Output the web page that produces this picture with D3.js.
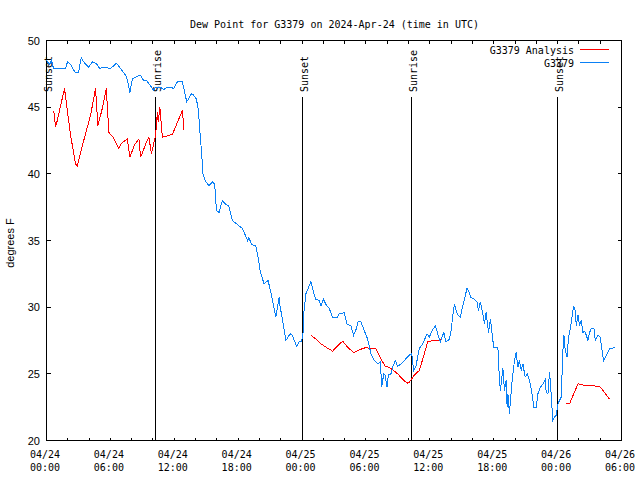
<!DOCTYPE html>
<html><head><meta charset="utf-8">
<script src="https://cdn.jsdelivr.net/npm/d3@7"></script>
<style>body{margin:0;background:#fff}</style>
</head><body><svg id="c" width="640" height="480"></svg>
<script>
const titleText = "Dew Point for G3379 on 2024-Apr-24 (time in UTC)";
const startUTC = Date.UTC(2024, 3, 24, 0, 0, 0);
const spanHours = 54;
const yTicks = [20, 25, 30, 35, 40, 45, 50];
const seriesNames = ["G3379 Analysis", "G3379"];
const seriesColors = ["#ff0000", "#0a80f5"];

// hours since 2024-04-24 00:00 UTC
const blueHours = [0,0.28,0.47,0.66,1.13,1.79,1.97,2.26,2.45,2.73,3.01,3.26,3.57,3.95,4.33,4.77,4.98,5.46,6.02,6.30,6.58,6.96,7.43,7.62,7.83,8.06,8.46,8.84,9.12,9.40,9.78,10.03,10.25,10.72,11.00,11.29,11.66,11.94,12.29,12.76,13.17,13.61,13.82,14.08,14.27,14.42,14.55,14.70,14.89,15.26,15.58,15.80,15.96,16.20,16.52,16.83,17.12,17.46,17.77,18.09,18.40,18.88,19.00,19.28,19.66,19.87,20.06,20.29,20.44,20.81,21.07,21.54,21.85,21.91,22.17,22.48,22.88,23.09,23.26,23.51,23.73,23.95,24.10,24.12,24.36,24.83,25.08,25.30,25.61,25.77,26.02,26.24,26.55,26.87,27.34,27.49,27.74,27.96,28.21,28.59,28.84,29.06,29.28,29.53,29.84,30.09,30.31,30.47,30.78,31.10,31.35,31.48,31.67,31.79,31.98,32.10,32.35,32.51,32.76,32.98,33.23,33.60,34.07,34.30,34.39,34.49,34.70,35.01,35.33,35.74,35.95,36.21,36.52,36.74,36.99,37.31,37.52,37.84,38.00,38.16,38.31,38.47,38.65,38.87,39.09,39.25,39.50,39.72,39.81,40.19,40.44,40.56,40.75,40.98,41.13,41.29,41.51,41.69,41.92,42.01,42.39,42.44,42.54,42.63,42.76,42.86,43.01,43.17,43.26,43.33,43.48,43.57,43.73,43.95,44.11,44.27,44.42,44.58,44.74,44.95,45.14,45.36,45.52,45.77,45.99,46.15,46.39,46.62,46.84,46.93,47.09,47.24,47.33,47.47,47.56,47.71,47.87,48.03,48.18,48.34,48.43,48.50,48.59,48.72,48.88,49.03,49.19,49.35,49.50,49.66,49.75,49.91,50.06,50.22,50.38,50.53,50.69,50.85,51.00,51.16,51.41,51.54,51.79,52.01,52.17,52.32,52.57,52.88,53.35];
const blueValues = [48.5,48.2,48.5,47.9,47.9,47.9,48.4,48.2,47.9,47.6,47.6,48.7,48.3,48.0,48.4,48.2,47.9,48.0,47.9,48.1,48.3,47.9,47.4,47.0,46.1,47.1,47.3,47.4,47.0,47.0,46.6,46.25,46.5,46.5,46.3,46.5,46.5,46.4,46.9,46.9,45.4,46.0,45.9,45.6,44.75,43.0,41.75,40.0,39.5,39.1,39.4,39.2,37.25,37.1,38.0,37.7,37.6,36.5,36.3,36.1,35.9,35.0,35.2,34.7,34.6,33.75,32.75,32.1,31.75,32.0,31.1,29.25,30.75,30.2,29.0,27.5,28.0,27.9,27.5,27.05,27.4,27.4,28.1,29.25,31.0,31.9,31.1,30.6,30.5,30.1,30.6,30.2,29.9,29.25,29.25,29.55,29.5,29.6,28.75,28.6,27.9,28.3,28.95,28.9,28.25,27.75,27.1,26.5,26.0,25.75,25.9,24.0,25.0,24.9,24.0,24.9,25.0,25.5,26.0,25.55,25.7,26.0,26.4,26.5,25.9,25.25,25.6,26.9,27.25,28.0,27.75,28.25,28.6,28.0,27.4,28.1,27.4,27.6,28.25,29.4,30.25,29.75,29.4,29.25,30.1,30.6,31.45,31.1,30.75,30.6,30.4,29.75,30.4,29.5,28.75,29.6,28.1,29.1,27.5,27.0,27.0,26.1,24.5,23.75,24.75,25.4,23.75,24.5,22.5,23.5,22.0,23.0,24.5,26.0,26.6,25.5,26.0,25.25,25.75,24.75,25.0,24.5,23.9,22.5,22.5,23.5,24.0,24.25,24.6,23.6,23.5,25.1,24.25,22.5,21.5,21.75,21.9,22.75,23.0,23.25,25.25,26.75,27.9,26.75,26.25,27.75,28.4,29.25,30.1,29.75,28.6,29.4,28.6,29.0,28.1,28.2,27.9,27.5,28.1,28.4,28.4,27.5,27.9,27.75,26.75,26.0,26.4,26.9,26.95];

// null value = no analysis (gap)
const redHours = [0.69,0.85,1.01,1.69,2.26,2.73,2.89,3.36,3.67,4.14,4.61,4.82,5.24,5.61,5.86,6.30,6.80,7.05,7.59,7.83,8.28,8.68,8.84,9.40,9.62,9.85,10.25,10.41,10.49,10.65,10.88,11.82,12.76,12.91,
  18.0,
  24.83,25.30,25.77,26.24,26.87,27.34,27.81,28.28,28.84,29.37,29.91,30.94,31.41,31.79,32.35,32.98,33.45,33.86,34.05,34.54,35.01,35.33,35.80,36.27,37.05,
  42.0,
  48.81,49.12,49.91,50.22,50.69,51.47,52.04,52.41,52.88];
const redValues = [44.7,43.5,44.0,46.4,42.9,40.75,40.6,42.1,43.0,44.4,46.4,43.6,44.9,46.4,43.1,42.7,41.9,42.3,42.6,41.25,42.2,42.6,41.25,42.4,42.75,41.5,42.9,44.6,43.9,45.0,42.75,42.95,44.75,43.3,
  null,
  27.9,27.6,27.25,27.0,26.7,27.1,27.45,27.0,26.6,26.8,26.95,26.9,26.1,25.6,25.4,25.0,24.6,24.3,24.35,24.9,25.25,26.1,27.4,27.5,27.55,
  null,
  22.75,22.75,24.25,24.2,24.1,24.1,24.0,23.6,23.1];

const sunHours = [0.0, 10.28, 24.07, 34.27, 48.01];
const sunLabels = ["Sunset", "Sunrise", "Sunset", "Sunrise", "Sunset"];

const H = 3600 * 1000;
const toDate = h => new Date(startUTC + h * H);
const mono = "'DejaVu Sans Mono', monospace";
const sans = "'Liberation Sans', Arial, sans-serif";

const svg = d3.select("#c");
const L = 46.5, R = 621.5, T = 40.5, B = 440.5;
const x = d3.scaleUtc().domain([toDate(0), toDate(spanHours)]).range([L, R]);
const y = d3.scaleLinear().domain([20, 50]).range([B, T]);

svg.append("text").attr("x", 334.5).attr("y", 28).attr("text-anchor", "middle")
  .style("font-family", mono).style("font-size", "10px").text(titleText);

// frame
svg.append("rect").attr("x", L).attr("y", T).attr("width", R - L).attr("height", B - T)
  .attr("fill", "none").attr("stroke", "#000").attr("shape-rendering", "crispEdges");

// x ticks (every 2h marks, labels every 6h)
const xMinor = d3.utcHour.every(2).range(toDate(0), toDate(spanHours + 0.01));
const g = svg.append("g").attr("shape-rendering", "crispEdges");
xMinor.forEach(d => {
  const xx = Math.round(x(d) - 0.5) + 0.5;
  g.append("line").attr("x1", xx).attr("x2", xx).attr("y1", B).attr("y2", B - 3).attr("stroke", "#000");
  g.append("line").attr("x1", xx).attr("x2", xx).attr("y1", T).attr("y2", T + 3).attr("stroke", "#000");
});
const xMajor = d3.utcHour.every(6).range(toDate(0), toDate(spanHours + 0.01));
const fmtD = d3.utcFormat("%m/%d"), fmtT = d3.utcFormat("%H:%M");
xMajor.forEach(d => {
  const t = svg.append("text").attr("text-anchor", "middle")
    .style("font-family", mono).style("font-size", "10px");
  t.append("tspan").attr("x", x(d) - 1.5).attr("y", 458).text(fmtD(d));
  t.append("tspan").attr("x", x(d) - 1.5).attr("y", 471).text(fmtT(d));
});

// y ticks
yTicks.forEach(v => {
  const yy = Math.round(y(v) - 0.5) + 0.5;
  g.append("line").attr("x1", L).attr("x2", L + 4).attr("y1", yy).attr("y2", yy).attr("stroke", "#000");
  g.append("line").attr("x1", R).attr("x2", R - 4).attr("y1", yy).attr("y2", yy).attr("stroke", "#000");
  svg.append("text").attr("x", 40).attr("y", y(v) + 4).attr("text-anchor", "end")
    .style("font-family", sans).style("font-size", "11px").text(v);
});

svg.append("text").attr("transform", "translate(14,243) rotate(-90)").attr("text-anchor", "middle")
  .style("font-family", sans).style("font-size", "11px").text("degrees F");

// sun lines
sunHours.forEach((h, i) => {
  const xx = Math.round(x(toDate(h)) - 0.5) + 0.5;
  g.append("line").attr("x1", xx).attr("x2", xx).attr("y1", 97).attr("y2", B).attr("stroke", "#000");
  svg.append("text").attr("transform", `translate(${xx + 5},92) rotate(-90)`)
    .attr("text-anchor", "start").style("font-family", mono).style("font-size", "10px")
    .text(sunLabels[i]);
});

const line = d3.line().defined(d => d.v != null).x(d => x(toDate(d.h))).y(d => y(d.v));
const redData = redHours.map((h, i) => ({h, v: redValues[i]}));
const blueData = blueHours.map((h, i) => ({h, v: blueValues[i]}));

svg.append("path").datum(redData).attr("d", line).attr("fill", "none")
  .attr("stroke", seriesColors[0]).attr("stroke-width", 1).attr("shape-rendering", "crispEdges");
svg.append("path").datum(blueData).attr("d", line).attr("fill", "none")
  .attr("stroke", seriesColors[1]).attr("stroke-width", 1).attr("shape-rendering", "crispEdges");

// legend
seriesNames.forEach((n, i) => {
  const yy = 49.5 + i * 13;
  svg.append("text").attr("x", 574).attr("y", yy + 4).attr("text-anchor", "end")
    .style("font-family", mono).style("font-size", "10px").text(n);
  svg.append("line").attr("x1", 580).attr("x2", 609).attr("y1", yy).attr("y2", yy)
    .attr("stroke", seriesColors[i]).attr("shape-rendering", "crispEdges");
});
</script></body></html>
